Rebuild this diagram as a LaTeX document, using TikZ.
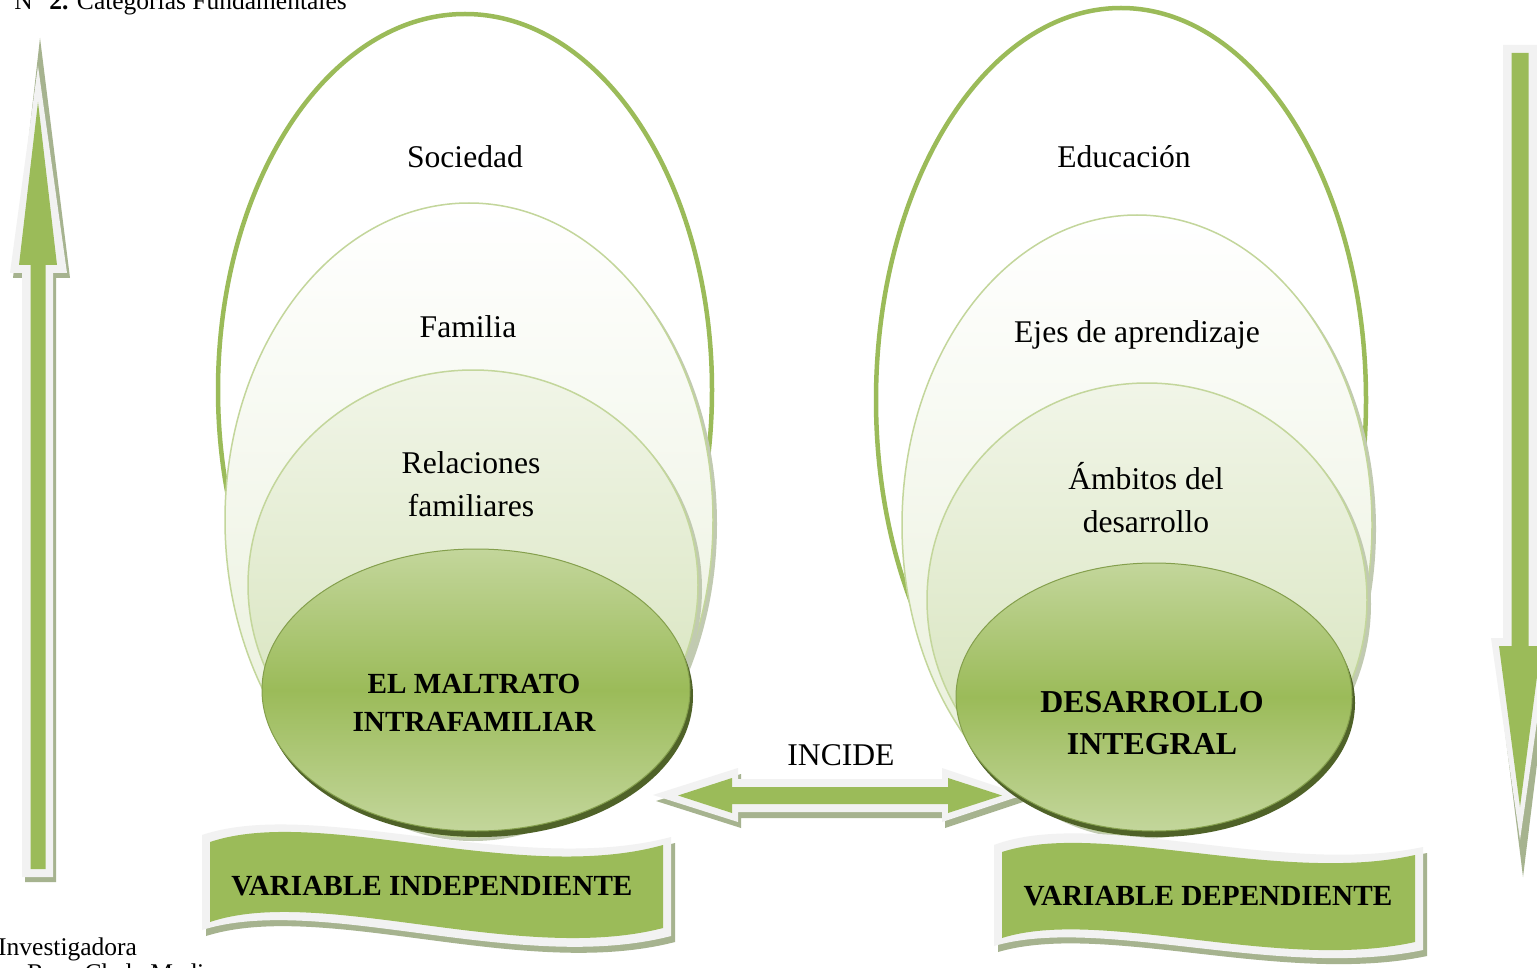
\documentclass[tikz,border=0pt]{standalone}
\usepackage{fontspec}
\setmainfont{Liberation Serif}
\definecolor{og}{HTML}{9BBB59}
\definecolor{ogl}{HTML}{C3D69B}
\definecolor{ogll}{HTML}{D7E4BD}
\definecolor{oglll}{HTML}{EBF1DE}
\definecolor{ogd}{HTML}{4F6228}
\definecolor{ogs}{HTML}{A6B38F}
\definecolor{wh}{HTML}{F2F2F2}
\begin{document}
\begin{tikzpicture}[x=1pt,y=-1pt,
  txt/.style={inner sep=0pt, font=\fontsize{31.6}{43}\selectfont, align=center},
  btxt/.style={inner sep=0pt, font=\fontsize{29.2}{38}\selectfont\bfseries, align=center},
  captxt/.style={inner sep=0pt, font=\fontsize{25.5}{30}\selectfont},
  outerell/.style={draw=og, line width=4.5pt, fill=white},
  midell/.style={draw=ogl, line width=1.5pt},
  shd/.style={fill=ogs!70},
  coreell/.style={draw=og!85!black, line width=1pt, top color=ogl, bottom color=ogl, middle color=og},
  arrw/.style={fill=wh},
  arrg/.style={fill=og},
  arrs/.style={fill=ogs}]
\useasboundingbox (0,0) rectangle (1537,968);
\fill[white] (0,0) rectangle (1537,968);

% captions
\node[captxt, anchor=base east] (title) at (347,10) {N° \textbf{2.} Categorías Fundamentales};
\node[captxt, anchor=base west] (fuente) at (-2,955) {Investigadora};
\node[captxt, anchor=base east] (elabl) at (20,981) {Elaborado por:};
\node[captxt, anchor=base west] (elab) at (27,981) {Rosa Chela Medina};

% double arrow INCIDE
\path[arrs] (656,801)--(741,774)--(741,785)--(945,785)--(945,774)--(1026,801)--(945,828)--(945,818)--(741,818)--(741,828)--cycle;
\path[arrw] (653,795)--(738,768)--(738,779)--(942,779)--(942,768)--(1023,795)--(942,822)--(942,812)--(738,812)--(738,822)--cycle;
\path[arrg] (678,795.5)--(732,778)--(732,787)--(948,787)--(948,778)--(1002,795.5)--(948,813)--(948,804)--(732,804)--(732,813)--cycle;
\node[txt] (incide) at (841,755) {INCIDE};

% left group
\path[outerell] (465,390) ellipse [x radius=247pt, y radius=376pt];
\path[shd] (473,524) ellipse [x radius=244pt, y radius=317pt];
\path[midell, top color=white, bottom color=oglll!80!ogll] (469,520) ellipse [x radius=244pt, y radius=317pt];
\path[shd] (477,589) ellipse [x radius=225pt, y radius=215pt];
\path[midell, top color=oglll!70!white, bottom color=ogll!80!ogl] (473,585) ellipse [x radius=225pt, y radius=215pt];
\fill[ogd] (479,696) ellipse [x radius=214pt, y radius=141pt];
\path[coreell] (476,690) ellipse [x radius=214pt, y radius=141pt];

\node[txt] (soc) at (465,157) {Sociedad};
\node[txt] (fam) at (468,327) {Familia};
\node[txt] (rel) at (471,484) {Relaciones\\familiares};
\node[btxt] (mal) at (474,703) {EL MALTRATO\\INTRAFAMILIAR};

% right group
\path[outerell] (1121,400) ellipse [x radius=245pt, y radius=392pt];
\path[shd] (1141,529) ellipse [x radius=235pt, y radius=310pt];
\path[midell, top color=white, bottom color=oglll!80!ogll] (1137,525) ellipse [x radius=235pt, y radius=310pt];
\path[shd] (1151,604) ellipse [x radius=220pt, y radius=217pt];
\path[midell, top color=oglll!70!white, bottom color=ogll!80!ogl] (1147,600) ellipse [x radius=220pt, y radius=217pt];
\fill[ogd] (1157,703) ellipse [x radius=198pt, y radius=134pt];
\path[coreell] (1154,697) ellipse [x radius=198pt, y radius=134pt];

\node[txt] (edu) at (1124,157) {Educación};
\node[txt] (ejes) at (1137,335) {Ejes de aprendizaje};
\node[txt] (amb) at (1146,498) {Ámbitos del\\desarrollo};
\node[btxt, font=\fontsize{31.9}{42}\selectfont\bfseries] (des) at (1152,723) {DESARROLLO\\INTEGRAL};

% left banner
\path[arrs] (206,841) .. controls (319,803) and (524,883) .. (675,843) -- (675,942) .. controls (524,981) and (324,899) .. (206,936) -- cycle;
\path[arrw] (202,835) .. controls (315,797) and (520,877) .. (671,837) -- (671,936) .. controls (520,975) and (320,893) .. (202,930) -- cycle;
\path[arrg] (210,842) .. controls (320,805) and (520,885) .. (663,845) -- (663,928) .. controls (520,965) and (320,885) .. (210,922) -- cycle;
\node[btxt] (vi) at (432,886) {VARIABLE INDEPENDIENTE};

% right banner
\path[arrs] (998,851) .. controls (1099,813) and (1284,883) .. (1427,853) -- (1427,956) .. controls (1284,986) and (1104,921) .. (998,952) -- cycle;
\path[arrw] (994,845) .. controls (1095,807) and (1280,877) .. (1423,847) -- (1423,950) .. controls (1280,980) and (1100,915) .. (994,946) -- cycle;
\path[arrg] (1002,852) .. controls (1100,820) and (1280,885) .. (1415,855) -- (1415,942) .. controls (1280,972) and (1100,907) .. (1002,938) -- cycle;
\node[btxt] (vd) at (1208,896) {VARIABLE DEPENDIENTE};

% left up arrow
\path[arrs] (25,882)--(56,882)--(56,278)--(70,278)--(40,38)--(13,278)--(25,278)--cycle;
\path[arrw] (22,877)--(53,877)--(53,273)--(67,273)--(38,66)--(10,273)--(22,273)--cycle;
\path[arrg] (30.5,869)--(45.5,869)--(45.5,265)--(57,265)--(38,102)--(19,265)--(30.5,265)--cycle;

% right down arrow
\path[arrs] (1506,50)--(1540,50)--(1540,643)--(1552,643)--(1523,877)--(1494,643)--(1506,643)--cycle;
\path[arrw] (1503,45)--(1537,45)--(1537,638)--(1549,638)--(1520,840)--(1491,638)--(1503,638)--cycle;
\path[arrg] (1511.5,53)--(1528.5,53)--(1528.5,646)--(1541,646)--(1520,807)--(1499,646)--(1511.5,646)--cycle;
\end{tikzpicture}
\end{document}
